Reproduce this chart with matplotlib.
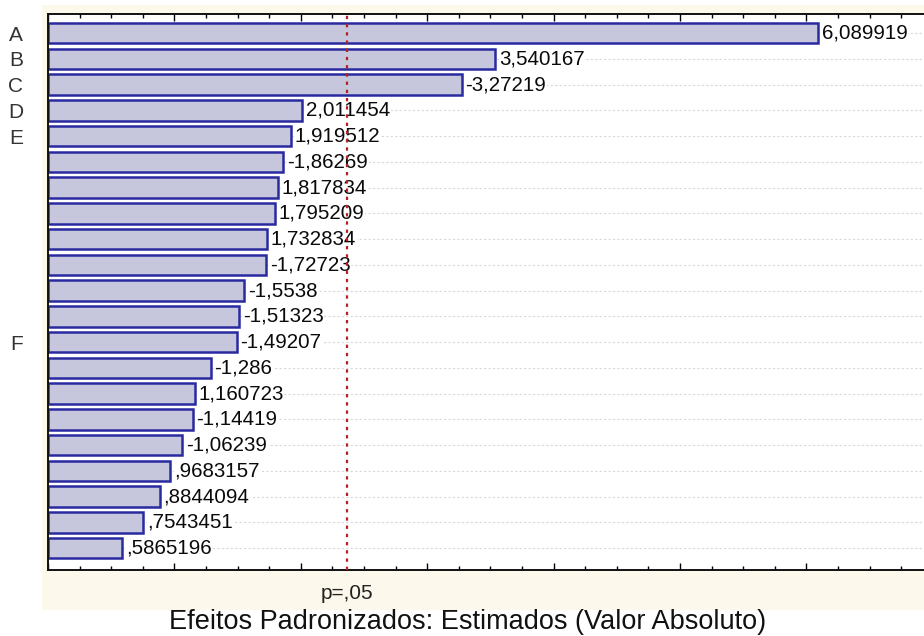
import matplotlib
matplotlib.use("Agg")
import matplotlib.pyplot as plt
from matplotlib.patches import Rectangle
from matplotlib.ticker import MultipleLocator

plt.rcParams['font.family'] = ['Liberation Sans', 'DejaVu Sans']

effects = [6.089919, 3.540167, -3.27219, 2.011454, 1.919512, -1.86269,
           1.817834, 1.795209, 1.732834, -1.72723, -1.5538, -1.51323,
           -1.49207, -1.286, 1.160723, -1.14419, -1.06239, 0.9683157,
           0.8844094, 0.7543451, 0.5865196]
value_labels = ["6,089919", "3,540167", "-3,27219", "2,011454", "1,919512",
                "-1,86269", "1,817834", "1,795209", "1,732834", "-1,72723",
                "-1,5538", "-1,51323", "-1,49207", "-1,286", "1,160723",
                "-1,14419", "-1,06239", ",9683157", ",8844094", ",7543451",
                ",5865196"]
row_labels = ["A", "B", "C", "D", "E", "", "", "", "", "", "", "", "F",
              "", "", "", "", "", "", "", ""]
p_crit = 2.365
p_label = "p=,05"
x_title = "Efeitos Padronizados: Estimados (Valor Absoluto)"

fig = plt.figure(figsize=(9.24, 6.36), dpi=100)
fig.patch.set_facecolor("white")
fig.patches.append(Rectangle((42/924, 1-610/636), 1.0, (610-5)/636,
                             transform=fig.transFigure, facecolor="#fdf8ec",
                             edgecolor="none", zorder=-5))

ax = fig.add_axes([48/924, 1-570/636, (7*126.4)/924, (570-14)/636])
ax.set_zorder(2)
ax.set_facecolor("white")

pos = list(range(len(effects)))
mag = [abs(v) for v in effects]

for y in pos:
    ax.axhline(y, color="#d8d8d8", lw=0.8, ls=(0, (2, 2)), zorder=0.5)

ax.barh(pos, mag, height=0.8, color="#c6c7dd", edgecolor="#2a2aa0",
        linewidth=1.8, zorder=2)

for y, m, lab in zip(pos, mag, value_labels):
    ax.text(m + 0.03, y, lab, va="center", ha="left", fontsize=14.8,
            color="#0a0a0a", zorder=3,
            bbox=dict(facecolor="white", edgecolor="none", pad=0.5))

ax.axvline(p_crit, color="#b22222", lw=1.6, ls=(0, (1.5, 2.2)), zorder=4)

ax.set_xlim(0, 7)
ax.set_ylim(20.85, -0.74)
ax.set_yticks(pos)
ax.set_yticklabels(row_labels, fontsize=15, color="#333333")
ax.tick_params(axis="y", direction="in", length=4, width=1.2, pad=18)

ax.xaxis.set_major_locator(MultipleLocator(1))
ax.xaxis.set_minor_locator(MultipleLocator(0.25))
ax.tick_params(axis="x", which="both", direction="in", top=True, bottom=True,
               labelbottom=False, width=1.0)
ax.tick_params(axis="x", which="major", length=5)
ax.tick_params(axis="x", which="minor", length=3)

for s in ax.spines.values():
    s.set_linewidth(1.4)
    s.set_color("#111111")

ax.text(p_crit, -0.043, p_label, transform=ax.get_xaxis_transform(),
        ha="center", va="center", fontsize=15, color="#222222",
        clip_on=False)

fig.text(468/924, 1-622/636, x_title, ha="center", va="center",
         fontsize=19.5, color="#111111")

fig.savefig("out.png", dpi=100)
